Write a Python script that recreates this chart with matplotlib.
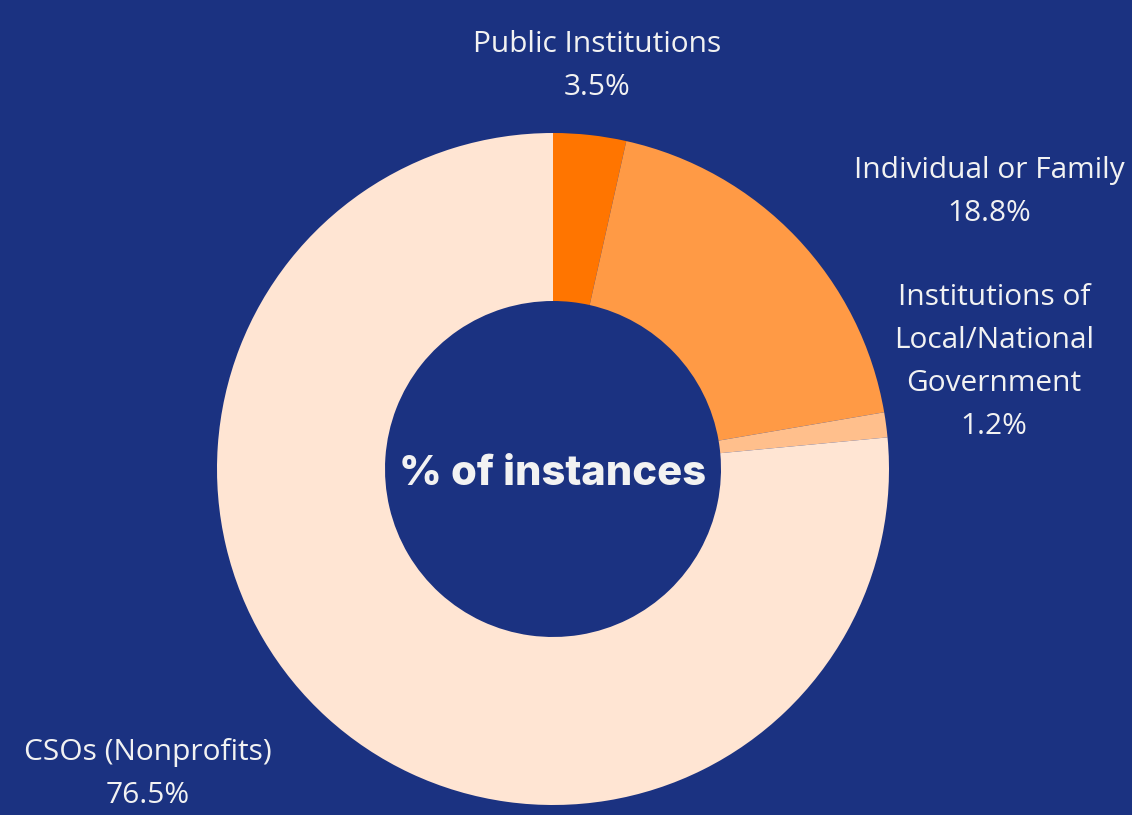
import matplotlib
matplotlib.use("Agg")
import matplotlib.pyplot as plt

categories = ["Public Institutions", "Individual or Family",
              "Institutions of\nLocal/National\nGovernment", "CSOs (Nonprofits)"]
values = [3.5, 18.8, 1.2, 76.5]
colors = ["#ff7500", "#ff9a45", "#ffbf8c", "#ffe5d3"]
center_label = "% of instances"

BG = "#1b3281"
TXT = "#f2f2f2"
W, H = 1132, 815
fig = plt.figure(figsize=(W / 100, H / 100), dpi=100, facecolor=BG)

cx, cy, R = 553, 815 - 469, 336
ax = fig.add_axes([(cx - R) / W, (cy - R) / H, 2 * R / W, 2 * R / H])
ax.set_facecolor(BG)
ax.pie(values, colors=colors, startangle=90, counterclock=False, radius=1,
       wedgeprops=dict(width=0.5, linewidth=0))
ax.set_xlim(-1, 1)
ax.set_ylim(-1, 1)
ax.set_aspect("equal")
ax.axis("off")

ax.text(0, -0.015, center_label, ha="center", va="center", color=TXT,
        fontsize=30, fontweight="heavy", family=["Inter", "DejaVu Sans"])

# label anchor positions (pixel centers of label blocks)
label_pos = [(597, 66), (989, 192), (994, 362), (148, 774)]
for cat, v, (px, py) in zip(categories, values, label_pos):
    fig.text(px / W, 1 - py / H, f"{cat}\n{v:.1f}%", ha="center", va="center",
             color=TXT, fontsize=21.5, linespacing=1.65,
             family=["Open Sans", "DejaVu Sans"])

fig.savefig("out.png", dpi=100, facecolor=BG)
